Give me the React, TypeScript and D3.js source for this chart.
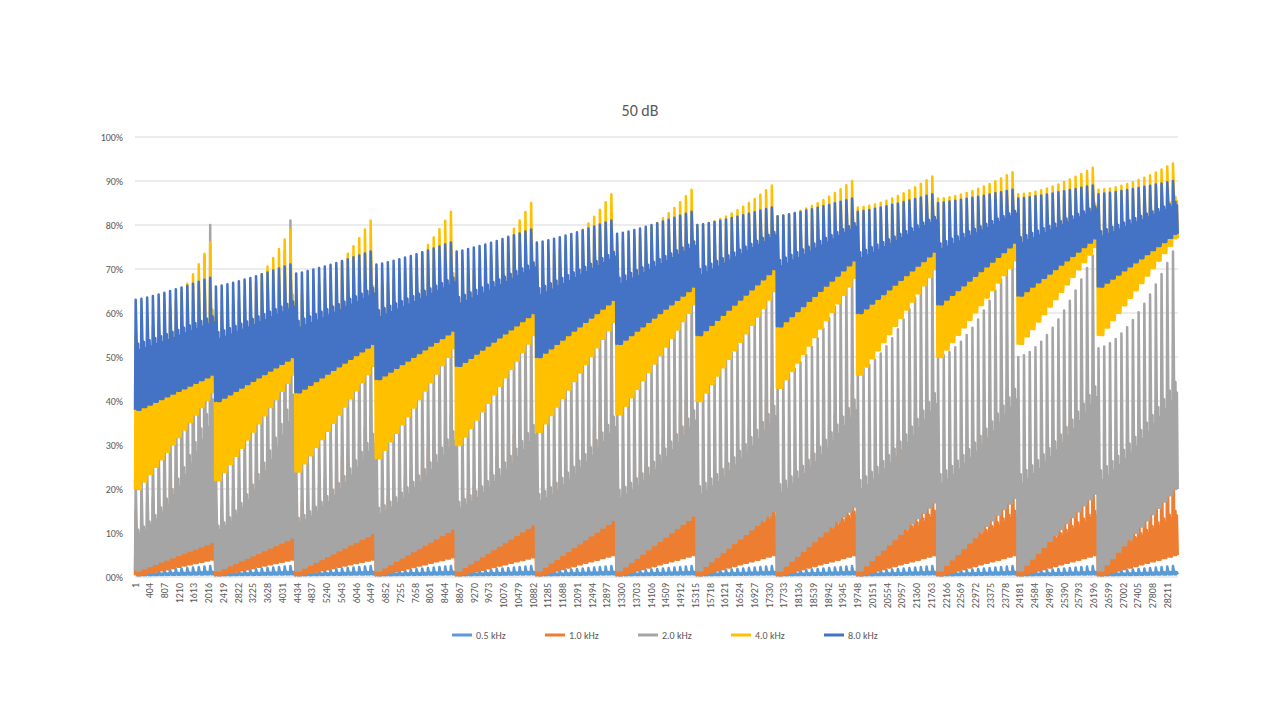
import * as d3 from 'd3'

const N = 28500
const GROUPS = 13
const SPIKES = 14
const TICK_STEP = 403

const seriesNames = ['0.5 kHz', '1.0 kHz', '2.0 kHz', '4.0 kHz', '8.0 kHz']
const colors = ['#5b9bd5', '#ed7d31', '#a5a5a5', '#ffc000', '#4472c4']

// per-group envelopes (fractions)
const peakStart = [
  [0.012, 0.012, 0.012, 0.012, 0.012, 0.012, 0.012, 0.012, 0.012, 0.012, 0.012, 0.012, 0.012],
  [0.15, 0.15, 0.16, 0.16, 0.17, 0.18, 0.18, 0.18, 0.18, 0.18, 0.18, 0.18, 0.18],
  [0.22, 0.24, 0.28, 0.33, 0.36, 0.4, 0.42, 0.44, 0.45, 0.47, 0.5, 0.5, 0.52],
  [0.55, 0.6, 0.64, 0.66, 0.68, 0.72, 0.76, 0.8, 0.82, 0.84, 0.86, 0.87, 0.88],
  [0.63, 0.66, 0.69, 0.71, 0.74, 0.76, 0.78, 0.8, 0.82, 0.83, 0.85, 0.86, 0.87],
]
const peakEnd = [
  [0.025, 0.025, 0.025, 0.025, 0.025, 0.025, 0.025, 0.025, 0.025, 0.025, 0.025, 0.025, 0.025],
  [0.33, 0.34, 0.36, 0.37, 0.38, 0.4, 0.42, 0.43, 0.44, 0.45, 0.45, 0.45, 0.45],
  [0.8, 0.81, 0.6, 0.6, 0.62, 0.65, 0.67, 0.68, 0.7, 0.72, 0.73, 0.73, 0.74],
  [0.76, 0.79, 0.81, 0.83, 0.85, 0.87, 0.88, 0.89, 0.9, 0.91, 0.92, 0.93, 0.94],
  [0.68, 0.71, 0.74, 0.76, 0.79, 0.81, 0.83, 0.84, 0.86, 0.87, 0.88, 0.89, 0.9],
]
const lowStart = [
  [0.004, 0.004, 0.004, 0.004, 0.004, 0.004, 0.004, 0.004, 0.004, 0.004, 0.004, 0.004, 0.004],
  [0.004, 0.004, 0.004, 0.004, 0.004, 0.004, 0.004, 0.004, 0.004, 0.004, 0.004, 0.004, 0.004],
  [0.015, 0.015, 0.015, 0.015, 0.015, 0.015, 0.015, 0.015, 0.015, 0.015, 0.015, 0.015, 0.015],
  [0.2, 0.22, 0.24, 0.27, 0.3, 0.33, 0.37, 0.4, 0.43, 0.46, 0.5, 0.53, 0.55],
  [0.38, 0.4, 0.42, 0.45, 0.48, 0.5, 0.53, 0.55, 0.57, 0.6, 0.62, 0.64, 0.66],
]
const lowEnd = [
  [0.006, 0.006, 0.006, 0.006, 0.006, 0.006, 0.006, 0.006, 0.006, 0.006, 0.006, 0.006, 0.006],
  [0.04, 0.04, 0.04, 0.045, 0.045, 0.05, 0.05, 0.05, 0.05, 0.05, 0.05, 0.05, 0.05],
  [0.08, 0.09, 0.1, 0.11, 0.12, 0.13, 0.14, 0.15, 0.16, 0.17, 0.18, 0.19, 0.2],
  [0.42, 0.46, 0.48, 0.52, 0.55, 0.58, 0.62, 0.65, 0.68, 0.7, 0.72, 0.75, 0.77],
  [0.46, 0.5, 0.53, 0.56, 0.6, 0.63, 0.66, 0.7, 0.72, 0.74, 0.76, 0.77, 0.78],
]
// height of the dense band inside each spike, as share of peak-low
const bandShare = [0.3, 0.25, 0.45, 0.55, 0.6]

const yTicks = d3.range(0, 1.01, 0.1)
const xLabels = d3.range(1, N, TICK_STEP)

const W = 1280, H = 720
const left = 135, right = 1178, top = 137, bottom = 577

export default function App() {
  const x = d3.scaleLinear().domain([1, N]).range([left, right])
  const y = d3.scaleLinear().domain([0, 1]).range([bottom, top])
  const gw = N / GROUPS
  const sw = gw / SPIKES
  const line = d3.line<[number, number]>().x(d => x(d[0])).y(d => y(d[1]))

  const paths = seriesNames.map((_, s) => {
    const pts: [number, number][] = []
    for (let g = 0; g < GROUPS; g++) {
      for (let k = 0; k < SPIKES; k++) {
        const t = k / (SPIKES - 1)
        const pk = peakStart[s][g] + (peakEnd[s][g] - peakStart[s][g]) * Math.pow(t, s === 2 || s === 3 ? 1.6 : 1.2)
        const lo = lowStart[s][g] + (lowEnd[s][g] - lowStart[s][g]) * t
        const band = lo + (pk - lo) * bandShare[s]
        const i0 = 1 + g * gw + k * sw
        pts.push(
          [i0, lo], [i0 + sw * 0.12, pk], [i0 + sw * 0.3, band],
          [i0 + sw * 0.42, lo], [i0 + sw * 0.55, band], [i0 + sw * 0.68, lo],
          [i0 + sw * 0.8, band * 0.9 + lo * 0.1], [i0 + sw * 0.95, lo],
        )
      }
    }
    return line(pts) as string
  })

  return (
    <svg width={W} height={H} style={{ display: 'block', margin: -8, fontFamily: 'Calibri, Carlito, "Liberation Sans", sans-serif' }}>
      <rect width={W} height={H} fill="#fff" />
      <text x={640} y={116} textAnchor="middle" fontSize={16} fill="#595959">50 dB</text>
      {yTicks.map(t => (
        <g key={t}>
          <line x1={left} x2={right} y1={y(t)} y2={y(t)} stroke="#d9d9d9" />
          <text x={123} y={y(t) + 3.5} textAnchor="end" fontSize={10} fill="#595959">
            {t === 0 ? '00%' : `${Math.round(t * 100)}%`}
          </text>
        </g>
      ))}
      {paths.map((d, s) => (
        <path key={s} d={d} fill="none" stroke={colors[s]} strokeWidth={2.5} strokeLinejoin="round" />
      ))}
      {xLabels.map(v => (
        <text key={v} transform={`translate(${x(v) + 3.5},583) rotate(-90)`} textAnchor="end" fontSize={10} fill="#595959">{v}</text>
      ))}
      {seriesNames.map((n, s) => {
        const lx = 452 + s * 93
        return (
          <g key={n}>
            <line x1={lx} x2={lx + 20} y1={635} y2={635} stroke={colors[s]} strokeWidth={3} />
            <text x={lx + 24} y={638.5} fontSize={10} fill="#595959">{n}</text>
          </g>
        )
      })}
    </svg>
  )
}
